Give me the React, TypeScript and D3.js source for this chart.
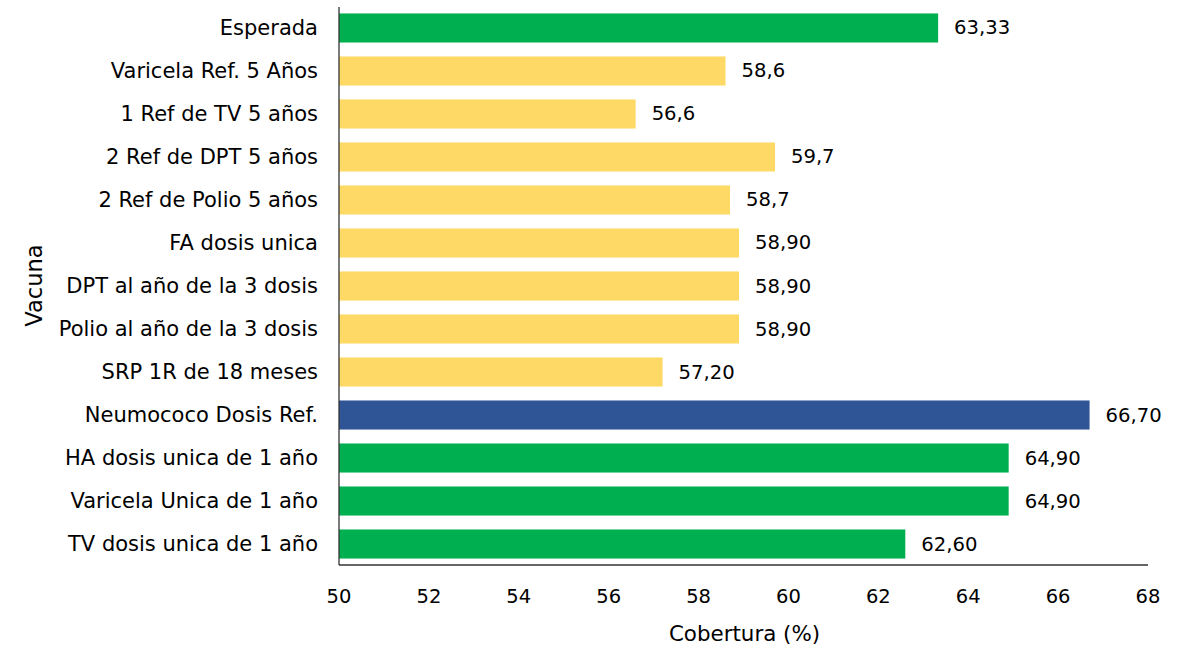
import React from "react";
import * as d3 from "d3";

const categories = [
  "Esperada",
  "Varicela Ref. 5 Años",
  "1 Ref de TV 5 años",
  "2 Ref de DPT 5 años",
  "2 Ref de Polio 5 años",
  "FA dosis unica",
  "DPT al año de la 3 dosis",
  "Polio al año de la 3 dosis",
  "SRP 1R de 18 meses",
  "Neumococo Dosis Ref.",
  "HA dosis unica de 1 año",
  "Varicela Unica de 1 año",
  "TV dosis unica de 1 año",
];
const values = [63.33, 58.6, 56.6, 59.7, 58.7, 58.9, 58.9, 58.9, 57.2, 66.7, 64.9, 64.9, 62.6];
const valueLabels = ["63,33", "58,6", "56,6", "59,7", "58,7", "58,90", "58,90", "58,90", "57,20", "66,70", "64,90", "64,90", "62,60"];
const groups = ["g", "y", "y", "y", "y", "y", "y", "y", "y", "b", "g", "g", "g"];
const xTicks = [50, 52, 54, 56, 58, 60, 62, 64, 66, 68];

const colors: Record<string, string> = { g: "#00B050", y: "#FFD966", b: "#2F5597" };

export default function App() {
  const W = 1186, H = 647;
  const left = 339, right = 1148, top = 7, bottom = 565;
  const x = d3.scaleLinear().domain([50, 68]).range([left, right]);
  const y = d3.scaleBand<string>().domain(categories).range([top, bottom]).paddingInner(0.324).paddingOuter(0.15);
  const font = "'DejaVu Sans', sans-serif";
  return (
    <svg width={W} height={H} style={{ position: "absolute", left: 0, top: 0, background: "#fff" }} fontFamily={font}>
      {categories.map((c, i) => (
        <g key={c}>
          <rect x={x(50)} y={y(c)!} width={x(values[i]) - x(50)} height={y.bandwidth()} fill={colors[groups[i]]} />
          <text x={x(values[i]) + 16} y={y(c)! + y.bandwidth() / 2} dominantBaseline="central" fontSize={19.6} fill="#000">
            {valueLabels[i]}
          </text>
          <text x={left - 21} y={y(c)! + y.bandwidth() / 2} dominantBaseline="central" textAnchor="end" fontSize={21} fill="#000">
            {c}
          </text>
        </g>
      ))}
      <line x1={left} x2={left} y1={top} y2={bottom} stroke="#333" strokeWidth={1.3} />
      <line x1={left} x2={right} y1={bottom} y2={bottom} stroke="#333" strokeWidth={1.3} />
      {xTicks.map((t) => (
        <text key={t} x={x(t)} y={596} textAnchor="middle" dominantBaseline="central" fontSize={19.5} fill="#000">
          {t}
        </text>
      ))}
      <text x={744.5} y={633} textAnchor="middle" dominantBaseline="central" fontSize={21.4} fill="#000">
        Cobertura (%)
      </text>
      <text transform={`translate(34,285.5) rotate(-90)`} textAnchor="middle" dominantBaseline="central" fontSize={22.6} fill="#000">
        Vacuna
      </text>
    </svg>
  );
}
